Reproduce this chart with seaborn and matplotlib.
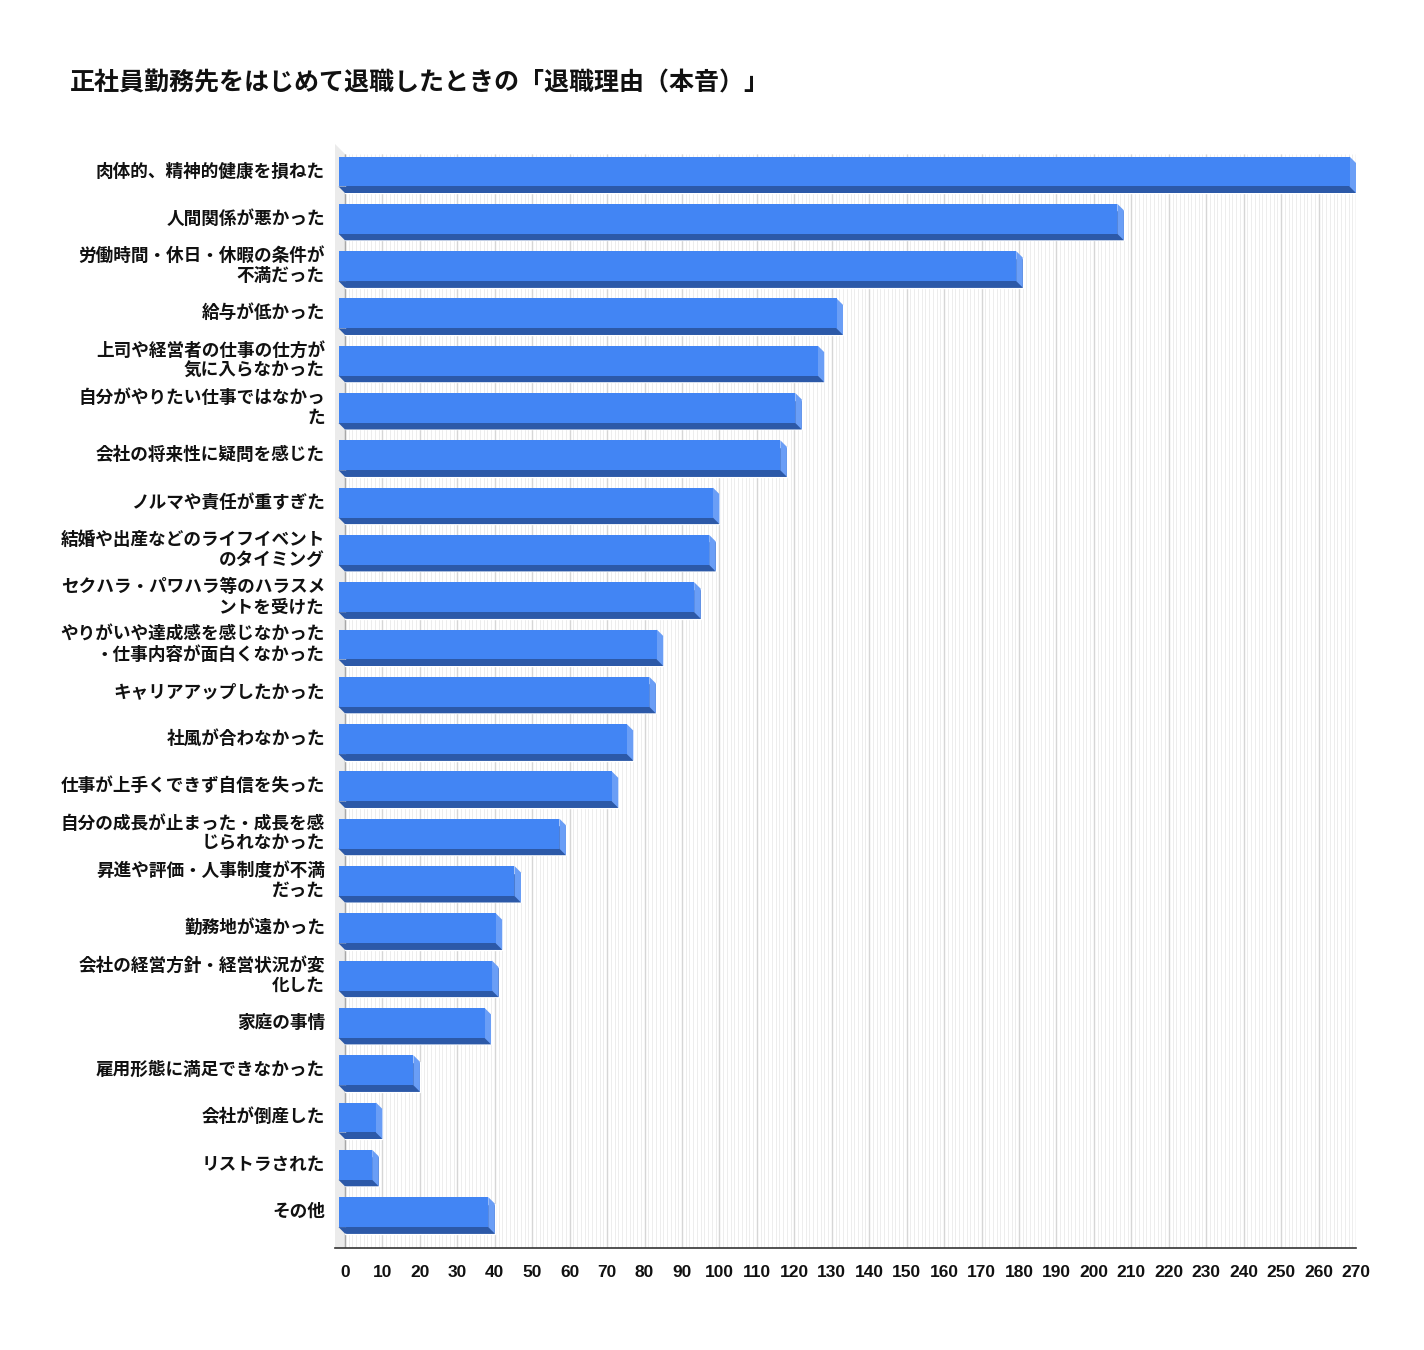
import matplotlib
matplotlib.use('Agg')

import numpy as np
import pandas as pd
import matplotlib.pyplot as plt
import matplotlib.transforms as mtransforms
from matplotlib.patches import Polygon
from matplotlib.ticker import FixedLocator
import seaborn as sns

# dados
title = "正社員勤務先をはじめて退職したときの「退職理由（本音）」"
reasons = [
    "肉体的、精神的健康を損ねた",
    "人間関係が悪かった",
    "労働時間・休日・休暇の条件が\n不満だった",
    "給与が低かった",
    "上司や経営者の仕事の仕方が\n気に入らなかった",
    "自分がやりたい仕事ではなかっ\nた",
    "会社の将来性に疑問を感じた",
    "ノルマや責任が重すぎた",
    "結婚や出産などのライフイベント\nのタイミング",
    "セクハラ・パワハラ等のハラスメ\nントを受けた",
    "やりがいや達成感を感じなかった\n・仕事内容が面白くなかった",
    "キャリアアップしたかった",
    "社風が合わなかった",
    "仕事が上手くできず自信を失った",
    "自分の成長が止まった・成長を感\nじられなかった",
    "昇進や評価・人事制度が不満\nだった",
    "勤務地が遠かった",
    "会社の経営方針・経営状況が変\n化した",
    "家庭の事情",
    "雇用形態に満足できなかった",
    "会社が倒産した",
    "リストラされた",
    "その他",
]
counts = [270, 208, 181, 133, 128, 122, 118, 100, 99, 95, 85, 83, 77, 73,
          59, 47, 42, 41, 39, 20, 10, 9, 40]
x_ticks = list(range(0, 271, 10))

# cores do efeito 3D
FRONT = "#4285f4"
SIDE = "#6a9ef6"
BOTTOM = "#2c59a8"
WALL = "#ebebeb"

W, H = 1424, 1350
PX_PER_UNIT = 1011 / 270      # pixels por unidade no eixo x
PX_PER_CAT = 47.3             # pixels entre categorias
DX = 6.5 / PX_PER_UNIT        # profundidade das barras (unidades x)
DY = 6.5 / PX_PER_CAT         # profundidade das barras (unidades y)
WALL_DX = 10 / PX_PER_UNIT

sns.set_style("white")
plt.rcParams['font.family'] = ['Noto Sans CJK JP', 'DejaVu Sans']

fig = plt.figure(figsize=(W / 100, H / 100), dpi=100)
ax = fig.add_axes([335 / W, 1 - 1248 / H, (1356 - 335) / W, (1248 - 144) / H])

df = pd.DataFrame({"reason": reasons, "count": counts})
sns.barplot(data=df, x="count", y="reason", orient="h", color=BOTTOM,
            saturation=1, width=0.634, ax=ax, zorder=3)
bars = list(ax.patches)

y_pos = ax.get_yticks()
y_bottom = 22 + (1248 - 178 - 22 * PX_PER_CAT) / PX_PER_CAT
y_top = -(178 - 144) / PX_PER_CAT
wall_top = -(178 - 154) / PX_PER_CAT
ax.set_xlim(-WALL_DX, x_ticks[-1])
ax.set_ylim(y_bottom, y_top)

# parede lateral e grade do fundo
ax.add_patch(Polygon([(-WALL_DX, y_top), (0, wall_top), (0, y_bottom), (-WALL_DX, y_bottom)],
                     closed=True, facecolor=WALL, edgecolor="none", zorder=0))
minor = np.arange(0, x_ticks[-1] + 1)
ax.vlines(minor, wall_top, y_bottom, colors="#ededed", lw=0.7, zorder=1)
ax.vlines(x_ticks, wall_top, y_bottom, colors="#d6d6d6", lw=1.0, zorder=1)
ax.vlines([0], wall_top, y_bottom, colors="#a8a8a8", lw=1.0, zorder=1)

# faces frontal, lateral e inferior a partir das barras do seaborn
for p in bars:
    x0, y0, w, h = p.get_x(), p.get_y(), p.get_width(), p.get_height()
    x1 = x0 + w
    ax.add_patch(Polygon([(x0 - DX, y0 + h - DY), (x1 - DX, y0 + h - DY), (x1, y0 + h), (x0, y0 + h)],
                         closed=True, facecolor=BOTTOM, edgecolor="none", zorder=4))
    ax.add_patch(Polygon([(x1 - DX, y0 - DY), (x1, y0), (x1, y0 + h), (x1 - DX, y0 + h - DY)],
                         closed=True, facecolor=SIDE, edgecolor="none", zorder=4))
    ax.add_patch(Polygon([(x0 - DX, y0 - DY), (x1 - DX, y0 - DY), (x1 - DX, y0 + h - DY), (x0 - DX, y0 + h - DY)],
                         closed=True, facecolor=FRONT, edgecolor="none", zorder=5))

# rótulos das categorias
lab_tr = mtransforms.blended_transform_factory(ax.transAxes, ax.transData)
for y, txt in zip(y_pos, reasons):
    ax.text(-10 / (1356 - 335), y - DY, txt, transform=lab_tr, ha="right", va="center",
            multialignment="right", fontsize=12.7, fontweight="bold", linespacing=1.15,
            color="#111111")

ax.set_yticks([])
ax.set_ylabel("")
ax.set_xlabel("")
ax.set_xticks(x_ticks)
ax.set_xticklabels([str(t) for t in x_ticks])
ax.xaxis.set_minor_locator(FixedLocator(minor))
ax.tick_params(axis="x", which="major", direction="inout", length=7, width=1,
               color="#333333", pad=9, labelsize=12.5, labelcolor="#111111")
ax.tick_params(axis="x", which="minor", direction="inout", length=4, width=0.8,
               color="#333333")
for lbl in ax.get_xticklabels():
    lbl.set_fontweight("bold")
    lbl.set_family(["Liberation Sans", "DejaVu Sans"])

for side in ["left", "top", "right"]:
    ax.spines[side].set_visible(False)
ax.spines["bottom"].set_color("#333333")
ax.spines["bottom"].set_linewidth(1.2)

fig.text(70 / W, 1 - 83 / H, title, ha="left", va="center", fontsize=18,
         fontweight="bold", color="#111111")

fig.savefig("out.png", dpi=100)
plt.close(fig)
